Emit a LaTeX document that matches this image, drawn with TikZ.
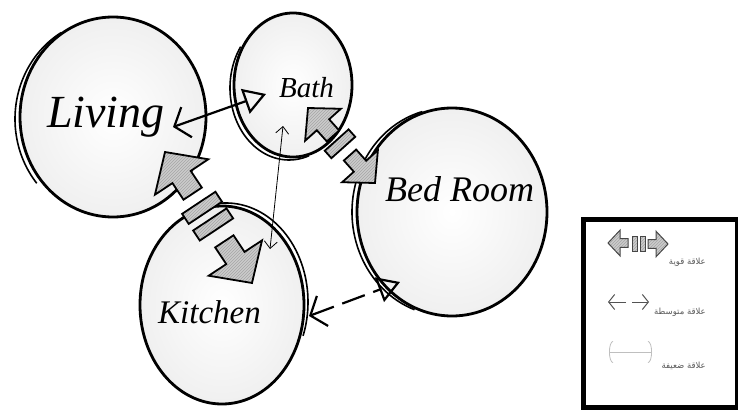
\documentclass[tikz,border=0pt]{standalone}
\usepackage{fontspec}
\setmainfont{Liberation Serif}
\newfontfamily\arabicfont[Script=Arabic]{DejaVu Sans}
\TeXXeTstate=1
\usetikzlibrary{shapes.geometric,arrows.meta,patterns,calc}
\tikzset{
 room/.style={ellipse, draw=black, line width=2.8pt, inner color=white, outer color=gray!12, inner sep=0pt},
 dbl/.style={line width=1.6pt},
 lbl/.style={anchor=base west, inner sep=0pt},
 sfill/.style={draw=black, line width=1.8pt, line join=miter, preaction={fill=gray!40}, pattern=north east lines, pattern color=gray!70},
 medium/.style={line width=2.2pt},
 weak/.style={line width=0.8pt},
 legtxt/.style={font=\arabicfont\fontsize{8.5}{10}\selectfont, text=gray!70!black, inner sep=0pt, anchor=east},
 pics/sarrow/.style={code={\draw[sfill,#1] (0,0) -- (-30,32) -- (-30,11) -- (-50,11) -- (-50,-11) -- (-30,-11) -- (-30,-32) -- cycle;}},
 pics/sarrow/.default={},
}
\begin{document}
\begin{tikzpicture}[x=1pt,y=-1pt]
\useasboundingbox (0,0) rectangle (738,415);
% rooms
\node[room, minimum width=186pt, minimum height=200pt] (living) at (113,117) {};
\node[room, minimum width=118pt, minimum height=144pt] (bath) at (293,85) {};
\node[room, minimum width=190pt, minimum height=208pt] (bed) at (452,212) {};
\node[room, minimum width=164pt, minimum height=198pt] (kitchen) at (222,305) {};
% second strokes
\draw[dbl] ($(living.center)+(-5,2)+(140:93 and 100)$) arc[start angle=140, end angle=240, x radius=93, y radius=100];
\draw[dbl] ($(bath.center)+(-4,3)+(215:59 and 72)$) arc[start angle=215, end angle=70, x radius=59, y radius=72];
\draw[dbl] ($(kitchen.center)+(4,-3)+(250:82 and 99)$) arc[start angle=250, end angle=380, x radius=82, y radius=99];
\draw[dbl] ($(bed.center)+(-5,0)+(110:95 and 104)$) arc[start angle=110, end angle=255, x radius=95, y radius=104];
% labels
\node[lbl, font=\itshape\fontsize{46}{50}\selectfont] (livingtxt) at (47,127) {Living};
\node[lbl, font=\itshape\fontsize{29}{32}\selectfont] (bathtxt) at (279,97) {Bath};
\node[lbl, font=\itshape\fontsize{36}{40}\selectfont] (bedtxt) at (385,201) {Bed Room};
\node[lbl, font=\itshape\fontsize{33}{36}\selectfont] (kitchentxt) at (158,323) {Kitchen};
% medium connectors
\coordinate (lb1) at (173,127);
\coordinate (lb2) at (266,94);
\draw[medium, {Straight Barb[length=13pt,width=32pt]}-{Triangle[open,length=22pt,width=26pt]}] (lb1) -- (lb2);
\coordinate (kb1) at (309,316);
\coordinate (kb2) at (400,282);
\draw[medium, dash pattern=on 24pt off 9pt, {Straight Barb[length=13pt,width=32pt]}-{Triangle[open,length=22pt,width=26pt]}] (kb1) -- (kb2);
% weak connector
\coordinate (bk1) at (283,126);
\coordinate (bk2) at (270,249);
\draw[weak, {Straight Barb[length=7pt,width=13pt]}-{Straight Barb[length=7pt,width=13pt]}] (bk1) -- (bk2);
% strong connectors
\coordinate (lk1) at (165,152);
\coordinate (lk2) at (252,283);
\pic[rotate=123.6] at (lk1) {sarrow};
\pic[rotate=-56.4] at (lk2) {sarrow};
\begin{scope}[shift={(lk1)}, rotate=123.6]
 \draw[sfill] (-61,-20) rectangle (-73,20);
 \draw[sfill] (-81,-20) rectangle (-93,20);
\end{scope}
\coordinate (bb1) at (308,108);
\coordinate (bb2) at (375,183);
\pic[rotate=131.8, scale=0.75] at (bb1) {sarrow};
\pic[rotate=-48.2, scale=0.75] at (bb2) {sarrow};
\begin{scope}[shift={(bb1)}, rotate=131.8]
 \draw[sfill] (-43,-16) rectangle (-53,16);
\end{scope}
% legend
\fill[gray!45] (585,221) rectangle (738,410);
\node[draw, line width=4.5pt, fill=white, minimum width=154pt, minimum height=188pt, anchor=north west, inner sep=0pt] (legend) at (581,217) {};
\coordinate (s1) at (608,243);
\coordinate (s2) at (668,244);
\pic[rotate=180, scale=0.4] at (s1) {sarrow={line width=1pt, draw=gray!55!black}};
\pic[rotate=0, scale=0.4] at (s2) {sarrow={line width=1pt, draw=gray!55!black}};
\draw[sfill, line width=1pt, draw=gray!55!black] (632,236) rectangle (637,251);
\draw[sfill, line width=1pt, draw=gray!55!black] (640,236) rectangle (645,251);
\node[legtxt] (t1) at (706,262) {\beginR علاقة قوية\endR};
\coordinate (m1a) at (626,302);
\coordinate (m1b) at (608,302);
\coordinate (m2a) at (632,302);
\coordinate (m2b) at (649,302);
\draw[gray!65!black, line width=1pt, -{Straight Barb[length=6pt,width=15pt]}] (m1a) -- (m1b);
\draw[gray!65!black, line width=1pt, -{Straight Barb[length=6pt,width=15pt]}] (m2a) -- (m2b);
\node[legtxt] (t2) at (706,312) {\beginR علاقة متوسطة\endR};
\coordinate (w1) at (609,352);
\coordinate (w2) at (652,352);
\draw[gray!50, line width=0.8pt, {Arc Barb[length=4pt,width=22pt]}-{Arc Barb[length=4pt,width=22pt]}] (w1) -- (w2);
\node[legtxt] (t3) at (706,366) {\beginR علاقة ضعيفة\endR};
\end{tikzpicture}
\end{document}
